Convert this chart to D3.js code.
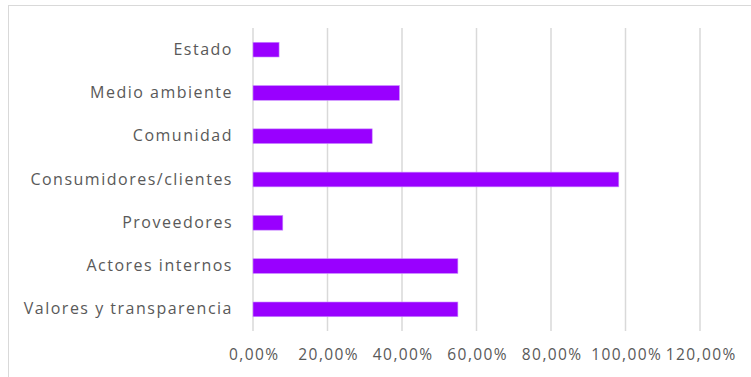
<!DOCTYPE html>
<html>
<head>
<meta charset="utf-8">
<script src="https://cdn.jsdelivr.net/npm/d3@7"></script>
<style>
  body { margin: 0; background: #fff; }
  text { font-family: "Open Sans", sans-serif; fill: #595959; }
</style>
</head>
<body>
<script>
var categories = ["Estado", "Medio ambiente", "Comunidad", "Consumidores/clientes", "Proveedores", "Actores internos", "Valores y transparencia"];
var values = [0.07, 0.393, 0.32, 0.982, 0.08, 0.55, 0.55];
var ticks = [0, 0.2, 0.4, 0.6, 0.8, 1.0, 1.2];

var width = 751, height = 377;
var margin = {left: 253, right: 51, top: 28, bottom: 46};

var svg = d3.select("body").append("svg").attr("width", width).attr("height", height);

// chart border (cropped at right and bottom)
svg.append("rect")
    .attr("x", 8.5).attr("y", 5.5)
    .attr("width", width).attr("height", height)
    .attr("fill", "none").attr("stroke", "#d9d9d9").attr("stroke-width", 1);

var x = d3.scaleLinear().domain([0, 1.2]).range([margin.left, width - margin.right]);
var y = d3.scaleBand().domain(categories).range([margin.top, height - margin.bottom]).paddingInner(0.66).paddingOuter(0.33);

// gridlines
svg.append("g").selectAll("line").data(ticks).join("line")
    .attr("x1", function(d){ return x(d); })
    .attr("x2", function(d){ return x(d); })
    .attr("y1", margin.top).attr("y2", height - margin.bottom)
    .attr("stroke", "#d9d9d9").attr("stroke-width", 1.5);

// bars
svg.append("g").selectAll("rect").data(values).join("rect")
    .attr("x", x(0))
    .attr("y", function(d, i){ return y(categories[i]); })
    .attr("width", function(d){ return x(d) - x(0); })
    .attr("height", y.bandwidth())
    .attr("fill", "#9900ff")
    .attr("stroke", "#c98cff").attr("stroke-width", 0.6);

// x axis
var fmt = function(d){ return d3.format(".2%")(d).replace(".", ","); };
var xAxis = d3.axisBottom(x).tickValues(ticks).tickFormat(fmt).tickSize(0).tickPadding(18);
var gx = svg.append("g").attr("transform", "translate(0," + (height - margin.bottom) + ")").call(xAxis);
gx.select(".domain").remove();
gx.selectAll("text").attr("font-size", 15.5).attr("letter-spacing", 1.4)
    .attr("dx", 0.7)
    .attr("font-family", "Open Sans, sans-serif").attr("fill", "#595959");

// y axis
var yAxis = d3.axisLeft(y).tickSize(0).tickPadding(20);
var gy = svg.append("g").attr("transform", "translate(" + (margin.left) + ",0)").call(yAxis);
gy.select(".domain").remove();
gy.selectAll("text").attr("font-size", 16).attr("letter-spacing", 1.5)
    .attr("font-family", "Open Sans, sans-serif").attr("fill", "#595959");
</script>
</body>
</html>
